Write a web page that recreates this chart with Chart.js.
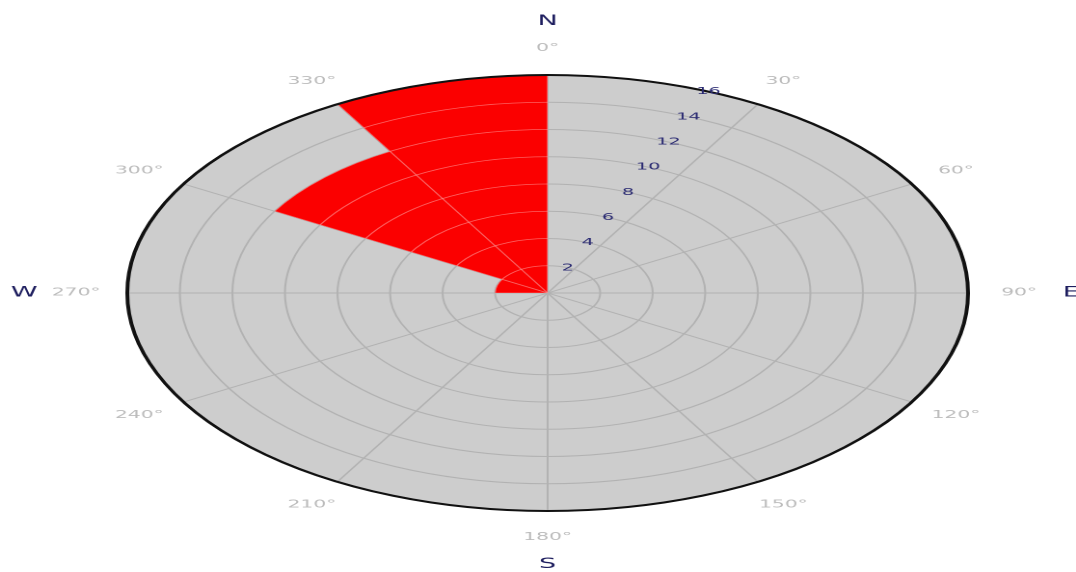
<!DOCTYPE html>
<html>
<head>
<meta charset="utf-8">
<script src="https://cdn.jsdelivr.net/npm/chart.js@4.4.1/dist/chart.umd.min.js"></script>
<style>
html,body{margin:0;padding:0;background:#fff;overflow:hidden;width:1076px;height:572px;}
#wrap{position:absolute;left:0;top:0;width:558px;height:572px;transform:scaleX(1.9283);transform-origin:0 0;}
</style>
</head>
<body>
<div id="wrap"><canvas id="c"></canvas></div>
<script>
// Direction sectors (30° each, clockwise from north)
const directions = ['0°','30°','60°','90°','120°','150°','180°','210°','240°','270°','300°','330°'];
// Frequency per sector
const frequency = [0, 0, 0, 0, 0, 0, 0, 0, 0, 2, 12, 16];
// Radial ticks
const tickValues = [2, 4, 6, 8, 10, 12, 14, 16];
const radialMax = 16;
// Compass labels and the sector index they sit at
const compassLabels = ['N', 'E', 'S', 'W'];
const compassIndex = [0, 3, 6, 9];

const FONT = '"DejaVu Sans", Verdana, sans-serif';

const roseDecor = {
  id: 'roseDecor',
  beforeDraw(chart) {
    const s = chart.scales.r, ctx = chart.ctx;
    ctx.save();
    ctx.beginPath();
    ctx.arc(s.xCenter, s.yCenter, s.drawingArea, 0, Math.PI * 2);
    ctx.fillStyle = '#cdcdcd';
    ctx.fill();
    ctx.restore();
  },
  afterDatasetsDraw(chart) {
    // faint grid lines shown over the filled sectors
    const s = chart.scales.r, ctx = chart.ctx;
    const meta = chart.getDatasetMeta(0);
    meta.data.forEach(arc => {
      const p = arc.getProps(['x', 'y', 'startAngle', 'endAngle', 'outerRadius'], true);
      if (!p.outerRadius) return;
      ctx.save();
      ctx.beginPath();
      ctx.moveTo(p.x, p.y);
      ctx.arc(p.x, p.y, p.outerRadius, p.startAngle, p.endAngle);
      ctx.closePath();
      ctx.clip();
      ctx.strokeStyle = 'rgba(255,160,160,0.6)';
      ctx.lineWidth = 0.8;
      tickValues.forEach(v => {
        ctx.beginPath();
        ctx.arc(s.xCenter, s.yCenter, s.getDistanceFromCenterForValue(v), 0, Math.PI * 2);
        ctx.stroke();
      });
      directions.forEach((d, i) => {
        const q = s.getPointPosition(i, s.drawingArea);
        ctx.beginPath();
        ctx.moveTo(s.xCenter, s.yCenter);
        ctx.lineTo(q.x, q.y);
        ctx.stroke();
      });
      ctx.restore();
    });
    // outer border
    ctx.save();
    ctx.beginPath();
    ctx.arc(s.xCenter, s.yCenter, s.getDistanceFromCenterForValue(radialMax), 0, Math.PI * 2);
    ctx.strokeStyle = '#111';
    ctx.lineWidth = 2;
    ctx.stroke();
    ctx.restore();
  },
  afterDraw(chart) {
    const s = chart.scales.r, ctx = chart.ctx;
    ctx.save();
    ctx.textAlign = 'center';
    ctx.textBaseline = 'middle';
    ctx.font = '10.5px ' + FONT;
    ctx.fillStyle = '#bcbcbc';
    directions.forEach((t, i) => {
      const p = s.getPointPosition(i, s.drawingArea + 26.5);
      ctx.fillText(t, p.x, p.y);
    });
    ctx.font = '14px ' + FONT;
    ctx.fillStyle = '#1d1d5e';
    compassLabels.forEach((t, k) => {
      const p = s.getPointPosition(compassIndex[k], s.drawingArea + 53.5);
      ctx.fillText(t, p.x, p.y);
    });
    ctx.font = '10px ' + FONT;
    ctx.fillStyle = '#2a2a72';
    tickValues.forEach(v => {
      const p = s.getPointPosition(0.75, s.getDistanceFromCenterForValue(v));
      ctx.fillText(String(v), p.x, p.y);
    });
    ctx.restore();
  }
};

new Chart(document.getElementById('c'), {
  type: 'polarArea',
  data: {
    labels: directions,
    datasets: [{
      data: frequency,
      backgroundColor: '#fb0000',
      borderWidth: 0
    }]
  },
  options: {
    responsive: true,
    maintainAspectRatio: false,
    devicePixelRatio: 2,
    animation: false,
    layout: { padding: { left: 66, right: 55, top: 75, bottom: 60 } },
    plugins: { legend: { display: false }, tooltip: { enabled: false } },
    scales: {
      r: {
        min: 0,
        max: radialMax,
        ticks: { stepSize: 2, display: false },
        grid: { circular: true, color: '#b2b2b2', lineWidth: 1 },
        angleLines: { display: true, color: '#b2b2b2', lineWidth: 1 },
        pointLabels: { display: false }
      }
    }
  },
  plugins: [roseDecor]
});
</script>
</body>
</html>
